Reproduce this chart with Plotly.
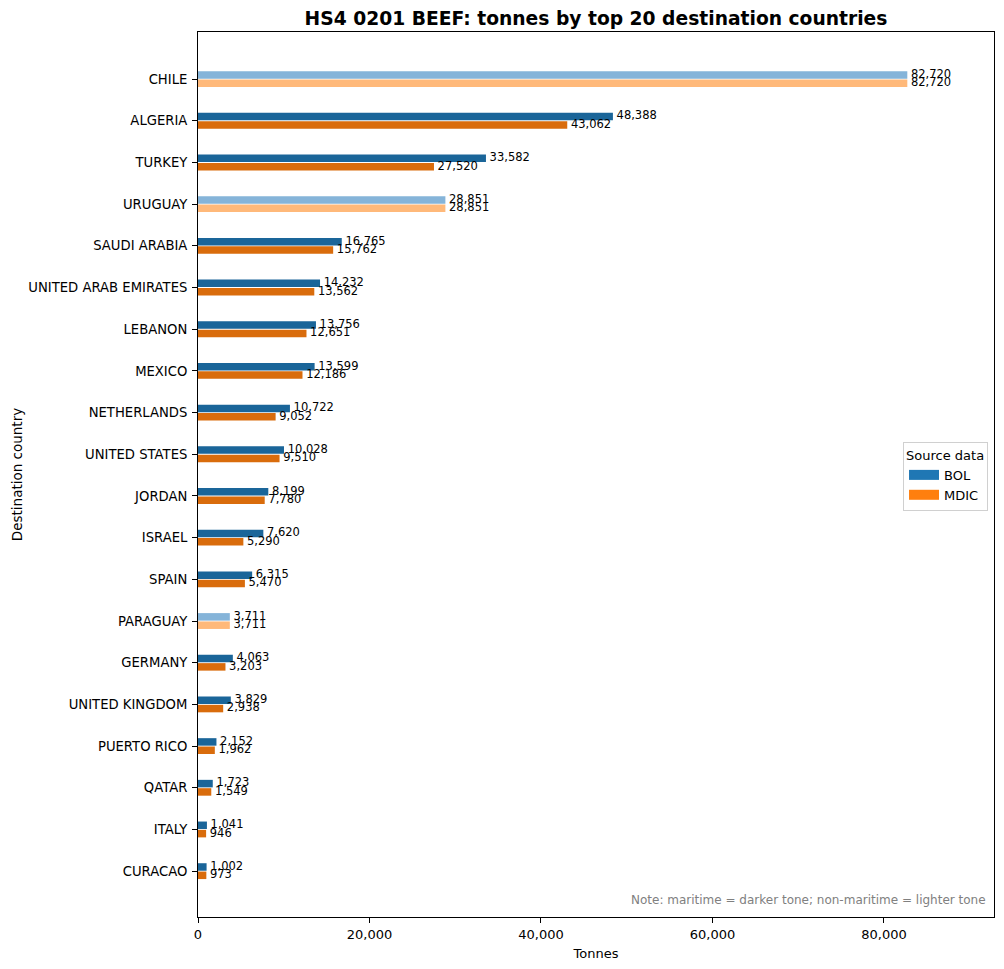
import plotly.graph_objects as go

countries = ["CHILE", "ALGERIA", "TURKEY", "URUGUAY", "SAUDI ARABIA", "UNITED ARAB EMIRATES",
             "LEBANON", "MEXICO", "NETHERLANDS", "UNITED STATES", "JORDAN", "ISRAEL", "SPAIN",
             "PARAGUAY", "GERMANY", "UNITED KINGDOM", "PUERTO RICO", "QATAR", "ITALY", "CURACAO"]
bol = [82720, 48388, 33582, 28851, 16765, 14232, 13756, 13599, 10722, 10028, 8199, 7620, 6315,
       3711, 4063, 3829, 2152, 1723, 1041, 1002]
mdic = [82720, 43062, 27520, 28851, 15762, 13562, 12651, 12186, 9052, 9510, 7780, 5290, 5470,
        3711, 3203, 2938, 1962, 1549, 946, 973]
maritime = [False, True, True, False, True, True, True, True, True, True, True, True, True,
            False, True, True, True, True, True, True]

BLUE_DARK, BLUE_LIGHT = "#1a6599", "#85b4d9"
ORANGE_DARK, ORANGE_LIGHT = "#d96c0c", "#ffb97a"
FONT = "DejaVu Sans"

pos = list(range(len(countries)))
y_bol = [p - 0.1 for p in pos]
y_mdic = [p + 0.1 for p in pos]
col_bol = [BLUE_DARK if m else BLUE_LIGHT for m in maritime]
col_mdic = [ORANGE_DARK if m else ORANGE_LIGHT for m in maritime]

fig = go.Figure()
fig.add_trace(go.Bar(x=bol, y=y_bol, orientation="h", width=0.18, marker=dict(color=col_bol, line_width=0),
                     showlegend=False, hoverinfo="x"))
fig.add_trace(go.Bar(x=mdic, y=y_mdic, orientation="h", width=0.18, marker=dict(color=col_mdic, line_width=0),
                     showlegend=False, hoverinfo="x"))
fig.add_trace(go.Scatter(x=bol, y=y_bol, mode="text", text=["\u00a0" + f"{v:,}" for v in bol],
                         textposition="middle right", textfont=dict(size=11.5, color="black", family=FONT),
                         showlegend=False, cliponaxis=False, hoverinfo="skip"))
fig.add_trace(go.Scatter(x=mdic, y=y_mdic, mode="text", text=["\u00a0" + f"{v:,}" for v in mdic],
                         textposition="middle right", textfont=dict(size=11.5, color="black", family=FONT),
                         showlegend=False, cliponaxis=False, hoverinfo="skip"))
# legend entries
fig.add_trace(go.Scatter(x=[None], y=[None], mode="lines", line=dict(color="#1f77b4", width=11), name="BOL"))
fig.add_trace(go.Scatter(x=[None], y=[None], mode="lines", line=dict(color="#ff7f0e", width=11), name="MDIC"))

fig.update_layout(
    width=996, height=961,
    margin=dict(l=190, r=10, t=24, b=52),
    plot_bgcolor="white", paper_bgcolor="white",
    font=dict(family=FONT, size=13, color="black"),
    barmode="overlay",
    title=dict(text="<b>HS4 0201 BEEF: tonnes by top 20 destination countries</b>", x=0.5, xref="paper",
               xanchor="center", y=0.9896, yref="container", yanchor="middle",
               font=dict(size=18.7, family=FONT)),
    legend=dict(title=dict(text="Source data", font=dict(size=13)), font=dict(size=13),
                x=0.9925, xanchor="right", y=0.4977, yanchor="middle",
                bordercolor="#d0d0d0", borderwidth=1, bgcolor="white", traceorder="normal"),
    xaxis=dict(range=[0, 92830], tickvals=[0, 20000, 40000, 60000, 80000],
               ticktext=["0", "20,000", "40,000", "60,000", "80,000"],
               showline=True, linecolor="black", linewidth=1, mirror=True,
               ticks="outside", ticklen=5, tickcolor="black", showgrid=False, zeroline=False,
               tickfont=dict(size=13), automargin=False,
               title=dict(text="Tonnes", font=dict(size=13), standoff=8)),
    yaxis=dict(range=[20.1, -1.13], tickvals=pos, ticktext=countries,
               showline=True, linecolor="black", linewidth=1, mirror=True,
               ticks="outside", ticklen=5, tickcolor="black", showgrid=False, zeroline=False,
               tickfont=dict(size=13.2), ticklabelstandoff=2, automargin=False,
               title=dict(text="Destination country", font=dict(size=13.5), standoff=2)),
    annotations=[dict(text="Note: maritime = darker tone; non-maritime = lighter tone",
                      xref="paper", yref="paper", x=0.9925, y=0.009, xanchor="right", yanchor="bottom",
                      showarrow=False, font=dict(size=12, color="gray", family=FONT))],
)

fig.write_html("out.html")
